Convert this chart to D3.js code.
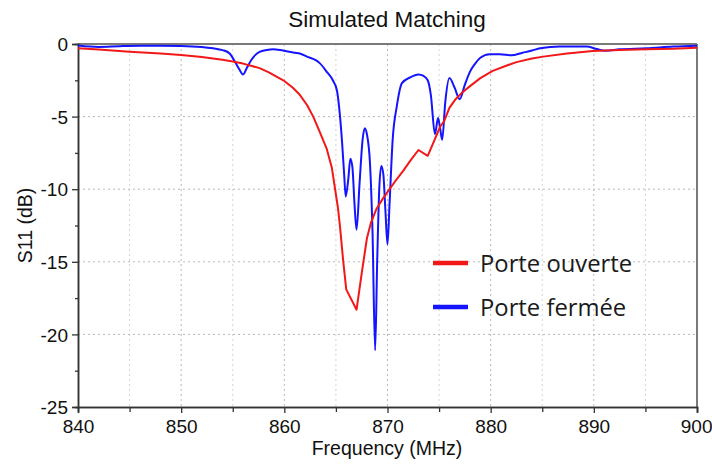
<!DOCTYPE html>
<html>
<head>
<meta charset="utf-8">
<script src="https://cdn.jsdelivr.net/npm/d3@7/dist/d3.min.js"></script>
<style>
  html, body { margin: 0; padding: 0; background: #fff; }
  svg { display: block; }
</style>
</head>
<body>
<svg id="chart" width="712" height="466"></svg>
<script>
// ---- Data ----
const title = "Simulated Matching";
const xLabel = "Frequency (MHz)";
const yLabel = "S11 (dB)";
const xTicks = [840, 850, 860, 870, 880, 890, 900];
const yTicks = [0, -5, -10, -15, -20, -25];
const seriesNames = ["Porte ouverte", "Porte fermée"];

// Porte ouverte (red)
const freqOpen = [840, 842, 845, 848, 850, 852, 854, 855, 856, 857.6, 858.5, 859.9, 860.8, 861.5, 862.2, 862.8, 863.4, 864.1, 864.6, 864.9, 865.2, 865.4, 865.7, 866.0, 867.0, 867.5, 868.0, 868.4, 868.9, 869.5, 870.2, 870.8, 871.5, 872.2, 873.0, 873.9, 874.5, 875.1, 875.5, 876.0, 876.6, 877.3, 878.0, 879.0, 880.2, 881.5, 882.5, 884, 885.1, 887.4, 889.9, 892.5, 895.1, 897.7, 900];
const s11Open = [-0.30, -0.38, -0.53, -0.66, -0.76, -0.90, -1.08, -1.20, -1.35, -1.66, -1.95, -2.5, -3.0, -3.5, -4.2, -5.0, -6.0, -7.2, -8.5, -9.9, -11.3, -12.6, -14.9, -16.9, -18.3, -15.8, -13.4, -12.3, -11.4, -10.7, -10.0, -9.4, -8.75, -8.05, -7.3, -7.7, -6.7, -5.7, -5.3, -4.4, -3.8, -3.3, -2.9, -2.35, -1.85, -1.5, -1.25, -1.0, -0.87, -0.65, -0.48, -0.41, -0.37, -0.33, -0.25];

// Porte fermée (blue)
const freqClosed = [840, 842, 844, 846, 848, 850, 852, 853.1, 854, 854.7, 855.2, 855.6, 856.0, 856.4, 856.8, 857.2, 857.6, 858.3, 858.9, 859.6, 860.2, 861.0, 861.5, 862.2, 863.0, 863.4, 864.1, 864.7, 865.1, 865.4, 865.6, 865.8, 865.95, 866.2, 866.4, 866.6, 866.8, 867.0, 867.3, 867.6, 867.8, 868.0, 868.3, 868.55, 868.8, 869.0, 869.2, 869.4, 869.6, 869.8, 870.0, 870.2, 870.5, 870.9, 871.4, 872.2, 873.0, 873.5, 873.9, 874.2, 874.6, 874.9, 875.1, 875.3, 875.6, 876.0, 876.5, 877.0, 877.5, 878.0, 878.5, 879.0, 879.9, 880.9, 882.0, 883.1, 884.0, 884.8, 886.7, 889.3, 890.3, 891.1, 892.5, 895.1, 897.7, 900];
const s11Closed = [-0.10, -0.20, -0.15, -0.12, -0.12, -0.13, -0.20, -0.30, -0.42, -0.65, -1.2, -1.7, -2.1, -1.6, -1.1, -0.75, -0.55, -0.42, -0.37, -0.42, -0.50, -0.60, -0.65, -0.87, -1.1, -1.3, -1.9, -2.5, -3.2, -5.0, -6.8, -9.0, -10.5, -9.3, -7.9, -8.5, -11.0, -12.8, -9.5, -6.5, -5.8, -6.2, -8.2, -13.0, -21.1, -15.0, -10.0, -8.4, -9.0, -11.5, -13.8, -11.0, -6.6, -4.3, -2.7, -2.3, -2.1, -2.2, -2.5, -3.5, -6.2, -5.1, -5.8, -6.6, -4.0, -2.35, -3.0, -3.8, -2.8, -1.9, -1.35, -0.95, -0.70, -0.70, -0.78, -0.60, -0.45, -0.30, -0.18, -0.18, -0.35, -0.46, -0.37, -0.30, -0.18, -0.12];

// ---- Layout ----
const svg = d3.select("#chart");
const mLeft = 78, mRight = 697, mTop = 44, mBottom = 407;
const x = d3.scaleLinear().domain([840, 900]).range([mLeft, mRight]);
const y = d3.scaleLinear().domain([-25, 0]).range([mBottom, mTop]);
const fontAxis = "'Liberation Sans', Arial, sans-serif";

// grid: vertical every 5 MHz, horizontal every 5 dB
const xGrid = d3.range(845, 900, 5);
svg.append("g").selectAll("line").data(xGrid).join("line")
  .attr("x1", d => x(d)).attr("x2", d => x(d))
  .attr("y1", mTop).attr("y2", mBottom)
  .attr("stroke", d => d % 10 === 0 ? "#b8b8b8" : "#d4d4d4")
  .attr("stroke-width", 1)
  .attr("stroke-dasharray", "2,3");
svg.append("g").selectAll("line").data(yTicks.filter(d => d !== 0 && d !== -25)).join("line")
  .attr("x1", mLeft).attr("x2", mRight)
  .attr("y1", d => y(d)).attr("y2", d => y(d))
  .attr("stroke", "#b8b8b8")
  .attr("stroke-width", 1)
  .attr("stroke-dasharray", "2,3");

// frame top & right
svg.append("line").attr("x1", mLeft).attr("x2", mRight).attr("y1", mTop).attr("y2", mTop)
  .attr("stroke", "#7a7a7a").attr("stroke-width", 2.2);
svg.append("line").attr("x1", mRight).attr("x2", mRight).attr("y1", mTop).attr("y2", mBottom)
  .attr("stroke", "#7a7a7a").attr("stroke-width", 2);

// axes
const xAxis = svg.append("g").attr("transform", `translate(0,${mBottom})`)
  .call(d3.axisBottom(x).tickValues(xTicks).tickFormat(d => String(d)).tickSize(6).tickPadding(7));
const xMinor = svg.append("g").attr("transform", `translate(0,${mBottom})`)
  .call(d3.axisBottom(x).tickValues(d3.range(845, 900, 10)).tickFormat("").tickSize(5));
const yAxis = svg.append("g").attr("transform", `translate(${mLeft},0)`)
  .call(d3.axisLeft(y).tickValues(yTicks).tickFormat(d => String(d)).tickSize(6).tickPadding(4));
const yMinor = svg.append("g").attr("transform", `translate(${mLeft},0)`)
  .call(d3.axisLeft(y).tickValues(d3.range(-22.5, 0, 5)).tickFormat("").tickSize(3));

[xAxis, yAxis, xMinor, yMinor].forEach(g => {
  g.select(".domain").attr("stroke", "#333").attr("stroke-width", 1.5);
  g.selectAll(".tick line").attr("stroke", "#333").attr("stroke-width", 1.3);
  g.selectAll("text").attr("font-family", fontAxis).attr("font-size", 19).attr("fill", "#111");
});
yAxis.selectAll("text").attr("dy", "0.35em");
// keep the last x label inside the page, as in the reference
xAxis.selectAll(".tick text").filter(d => d === 900).attr("text-anchor", "end").attr("dx", "15");

// lines
const lineLinear = d3.line().x(d => x(d[0])).y(d => y(d[1])).curve(d3.curveLinear);
const lineSmooth = d3.line().x(d => x(d[0])).y(d => y(d[1])).curve(d3.curveMonotoneX);
const openPts = freqOpen.map((f, i) => [f, s11Open[i]]);
const closedPts = freqClosed.map((f, i) => [f, s11Closed[i]]);

svg.append("path").datum(closedPts).attr("d", lineSmooth)
  .attr("fill", "none").attr("stroke", "#1414ff").attr("stroke-width", 2).attr("stroke-linejoin", "round");
svg.append("path").datum(openPts).attr("d", lineLinear)
  .attr("fill", "none").attr("stroke", "#f21818").attr("stroke-width", 2).attr("stroke-linejoin", "round");

// title and labels
svg.append("text").attr("x", 387).attr("y", 27).attr("text-anchor", "middle")
  .attr("font-family", fontAxis).attr("font-size", 22.5).attr("fill", "#111").text(title);
svg.append("text").attr("x", 387).attr("y", 455).attr("text-anchor", "middle")
  .attr("font-family", fontAxis).attr("font-size", 19.5).attr("fill", "#111").text(xLabel);
svg.append("text").attr("transform", `translate(32,${(mTop + mBottom) / 2}) rotate(-90)`)
  .attr("text-anchor", "middle")
  .attr("font-family", fontAxis).attr("font-size", 19.5).attr("fill", "#111").text(yLabel);

// legend
const legendColors = ["#f21818", "#1414ff"];
const lg = svg.append("g");
seriesNames.forEach((name, i) => {
  const cy = 263 + i * 44;
  lg.append("line").attr("x1", 433).attr("x2", 468).attr("y1", cy).attr("y2", cy)
    .attr("stroke", legendColors[i]).attr("stroke-width", 4.5);
  lg.append("text").attr("x", 480).attr("y", cy + 9)
    .attr("font-family", "'Open Sans', 'Noto Sans', sans-serif").attr("font-size", 23.8)
    .attr("fill", "#1a1a1a").text(name);
});
</script>
</body>
</html>
